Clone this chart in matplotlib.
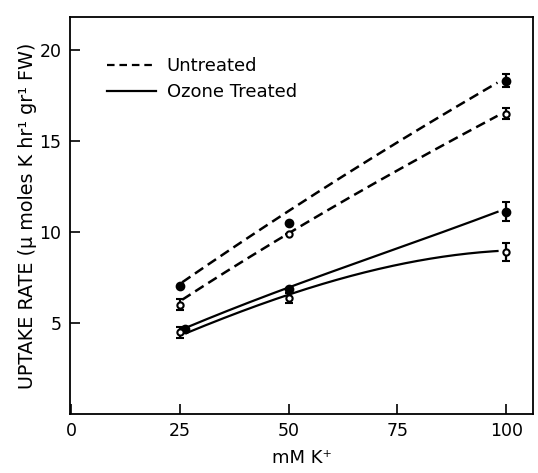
import numpy as np
import matplotlib
matplotlib.use('Agg')
import matplotlib.pyplot as plt
from matplotlib.lines import Line2D

# K+ concentrations (mM)
k_conc = [25, 50, 100]

# uptake rate, umoles K hr-1 gr-1 FW
untreated_filled = [7.03, 10.5, 18.3]
untreated_filled_err = [0.0, 0.0, 0.37]
untreated_open = [6.0, 9.9, 16.5]
untreated_open_err = [0.3, 0.0, 0.32]
ozone_filled = [4.67, 6.87, 11.1]
ozone_filled_err = [0.0, 0.0, 0.52]
ozone_open = [4.5, 6.37, 8.9]
ozone_open_err = [0.3, 0.28, 0.48]

# hand drawn curves
curve_x_dash = [25.5, 38, 50, 62, 75, 86, 93, 98]
curve_untr_filled = [7.25, 9.2, 11.2, 13.0, 14.9, 16.5, 17.5, 18.2]
curve_untr_open = [6.3, 8.1, 9.95, 11.7, 13.3, 14.8, 15.8, 16.35]
curve_x_oz_filled = [26.5, 50, 75, 98]
curve_oz_filled = [4.75, 6.95, 9.1, 11.1]
curve_x_oz_open = [26.5, 40, 51, 68, 83, 98]
curve_oz_open = [4.45, 5.7, 6.65, 7.8, 8.55, 8.95]

plt.rcParams['font.family'] = ['DejaVu Sans']

fig = plt.figure(figsize=(5.38, 4.73), dpi=100)
ax = fig.add_axes([0.130, 0.1247, 0.861, 0.8394])


def smooth(xs, ys, deg=3):
    c = np.polyfit(xs, ys, min(deg, len(xs) - 1))
    xx = np.linspace(xs[0], xs[-1], 200)
    return xx, np.polyval(c, xx)


for cx, cy, style in [(curve_x_dash, curve_untr_filled, 'dash'),
                      (curve_x_dash, curve_untr_open, 'dash'),
                      (curve_x_oz_filled, curve_oz_filled, 'solid'),
                      (curve_x_oz_open, curve_oz_open, 'solid')]:
    xx, yy = smooth(cx, cy)
    if style == 'dash':
        ax.plot(xx, yy, color='k', lw=1.8, dashes=(4, 2.2), dash_capstyle='butt')
    else:
        ax.plot(xx, yy, color='k', lw=1.6)

# data points with error bars
for vals, errs, filled in [(untreated_filled, untreated_filled_err, True),
                           (untreated_open, untreated_open_err, False),
                           (ozone_filled, ozone_filled_err, True),
                           (ozone_open, ozone_open_err, False)]:
    xs = list(k_conc)
    if filled and vals is ozone_filled:
        xs = [26.2, 50, 100]
    ax.errorbar(xs, vals, yerr=errs, fmt='o', color='k', ecolor='k',
                elinewidth=1.6, capsize=3.2, capthick=1.6,
                markersize=5.5 if filled else 4.5,
                markerfacecolor='k' if filled else 'white',
                markeredgecolor='k', markeredgewidth=1.5, zorder=4)

ax.set_xlim(-0.3, 106.2)
ax.set_ylim(0, 21.8)
ax.set_xticks([0, 25, 50, 75, 100])
ax.set_yticks([5, 10, 15, 20])
ax.tick_params(direction='in', length=7, width=1.2, labelsize=12.5, pad=6)
for s in ax.spines.values():
    s.set_linewidth(1.3)

ax.set_xlabel('mM K\u207a', fontsize=13, labelpad=6)
ax.set_ylabel('UPTAKE RATE (\u03bc moles K hr\u00b9 gr\u00b9 FW)', fontsize=13.8, labelpad=2)

handles = [Line2D([], [], color='k', lw=1.6, dashes=(3.4, 2.2)),
           Line2D([], [], color='k', lw=1.6)]
ax.legend(handles, ['Untreated', 'Ozone Treated'], loc='upper left',
          bbox_to_anchor=(0.045, 0.94), frameon=False, fontsize=13,
          handlelength=2.7, handletextpad=0.6, labelspacing=0.45)

fig.savefig('out.png', dpi=100)
